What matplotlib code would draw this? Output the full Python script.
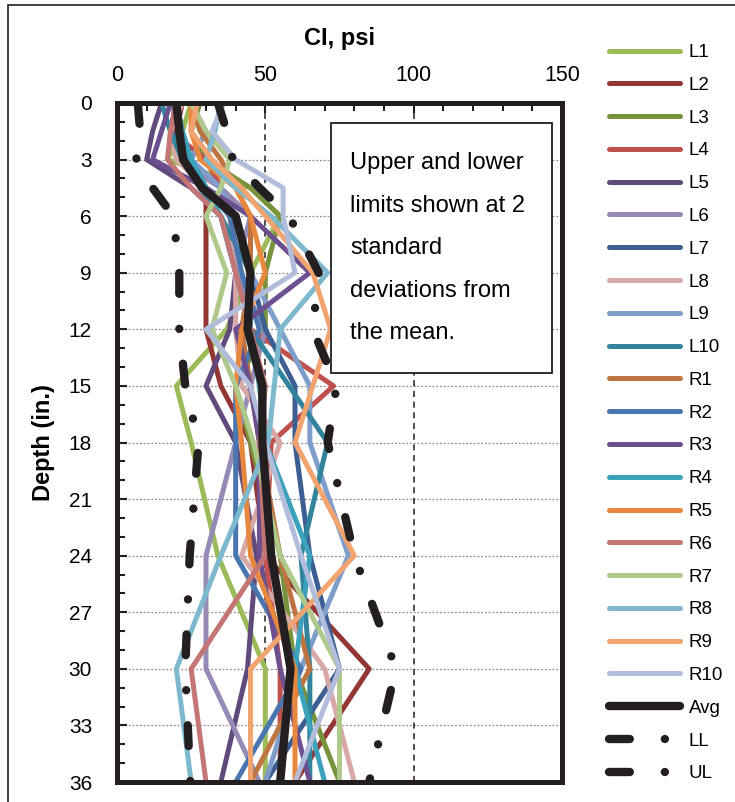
import matplotlib
matplotlib.use('Agg')
import matplotlib.pyplot as plt
from matplotlib.patches import Rectangle
from matplotlib.ticker import MultipleLocator

plt.rcParams['font.family'] = ['Liberation Sans', 'DejaVu Sans']

## Data
depth = [0, 1.5, 3, 4.5, 6, 9, 12, 15, 18, 24, 30, 36]

L1 = [25, 22, 17, 45, 55, 45, 37, 20, 25, 34, 50, 50]
L2 = [22, 20, 25, 30, 30, 30, 30, 35, 45, 50, 85, 60]
L3 = [28, 25, 30, 45, 55, 50, 50, 40, 45, 55, 60, 75]
L4 = [20, 18, 30, 35, 40, 45, 45, 73, 52, 50, 55, 55]
L5 = [15, 12, 10, 25, 35, 40, 38, 30, 40, 47, 44, 35]
L6 = [18, 22, 20, 35, 45, 40, 50, 45, 40, 30, 30, 48]
L7 = [20, 18, 25, 30, 40, 45, 50, 60, 60, 65, 75, 50]
L8 = [22, 18, 20, 30, 38, 40, 40, 42, 55, 42, 70, 80]
L9 = [25, 30, 25, 35, 40, 45, 55, 65, 65, 78, 62, 50]
L10 = [15, 18, 22, 28, 35, 45, 45, 58, 71, 62, 65, 65]
R1 = [25, 28, 35, 40, 45, 45, 42, 45, 48, 55, 65, 45]
R2 = [20, 22, 25, 30, 38, 42, 48, 40, 40, 40, 62, 40]
R3 = [18, 15, 12, 30, 45, 65, 40, 45, 48, 48, 55, 65]
R4 = [20, 22, 25, 30, 35, 40, 45, 48, 50, 65, 60, 70]
R5 = [25, 25, 28, 40, 45, 50, 42, 40, 42, 45, 60, 60]
R6 = [20, 18, 17, 25, 35, 40, 45, 50, 48, 50, 25, 30]
R7 = [25, 30, 38, 35, 30, 37, 32, 40, 46, 55, 75, 75]
R8 = [35, 33, 30, 40, 52, 71, 55, 53, 51, 35, 20, 25]
R9 = [27, 25, 32, 42, 50, 66, 72, 66, 60, 80, 45, 45]
R10 = [36, 32, 40, 56, 56, 60, 30, 45, 50, 62, 75, 60]

avg = [20, 21, 22.3, 28.7, 40, 45, 44, 49, 49, 52, 58.5, 55]
lower = [7, 7.8, 6.5, 12, 19, 21, 21, 23, 27.5, 24.5, 23, 24.7]
upper = [34, 37, 39, 48, 58, 68, 66, 74, 71, 80, 94, 85]

names = ['L1', 'L2', 'L3', 'L4', 'L5', 'L6', 'L7', 'L8', 'L9', 'L10',
         'R1', 'R2', 'R3', 'R4', 'R5', 'R6', 'R7', 'R8', 'R9', 'R10']
values = [L1, L2, L3, L4, L5, L6, L7, L8, L9, L10,
          R1, R2, R3, R4, R5, R6, R7, R8, R9, R10]
colors = ['#9BBB59', '#943634', '#77933C', '#C0504D', '#604A7B',
          '#958BB5', '#3C5E92', '#D8A8A7', '#7E9DCB', '#31849B',
          '#BE7441', '#4A76AF', '#6C4F8E', '#3CA2BB', '#E8883E',
          '#C47674', '#AEC98A', '#7DB8CD', '#F2A470', '#B1BDDA']

note = "Upper and lower\nlimits shown at 2\nstandard\ndeviations from\nthe mean."
dark = '#231F20'

## Figure
fig = plt.figure(figsize=(7.35, 8.02), dpi=100)
ax = fig.add_axes([117/735, 1 - 782/802, (562 - 117)/735, (782 - 103)/802])

handles = []
for name, vals, col in zip(names, values, colors):
    ln, = ax.plot(vals, depth, color=col, lw=3.6, label=name,
                  solid_capstyle='round', solid_joinstyle='round', zorder=2)
    handles.append(ln)

ln, = ax.plot(avg, depth, color=dark, lw=6, label='Avg',
              solid_capstyle='round', solid_joinstyle='round', zorder=3)
handles.append(ln)

# dash - dot pattern for the +/- 2 sd limits
dash_dot = (0, (2.5, 4.2, 0.01, 4.2))
for vals, name in [(lower, 'LL'), (upper, 'UL')]:
    ln, = ax.plot(vals, depth, color=dark, lw=6, ls=dash_dot, label=name,
                  dash_capstyle='round', zorder=3)
    handles.append(ln)

# axes setup
ax.set_xlim(0, 150)
ax.set_ylim(36, 0)
ax.xaxis.tick_top()
ax.xaxis.set_label_position('top')
ax.set_xticks([0, 50, 100, 150])
ax.xaxis.set_minor_locator(MultipleLocator(10))
ax.set_yticks(range(0, 37, 3))
ax.yaxis.set_minor_locator(MultipleLocator(1))
ax.tick_params(axis='x', which='both', direction='in', top=True, bottom=False,
               labelsize=15.5, pad=12, width=1.5, color=dark)
ax.tick_params(axis='y', which='both', direction='in', left=True, right=False,
               labelsize=15, pad=18, width=1.5, color=dark)
ax.tick_params(which='major', length=7)
ax.tick_params(which='minor', length=6)
for sp in ax.spines.values():
    sp.set_linewidth(3.6)
    sp.set_color(dark)
    sp.set_zorder(6)

ax.set_xlabel('CI, psi', fontsize=17, fontweight='bold', labelpad=15)
ax.set_ylabel('Depth (in.)', fontsize=17, fontweight='bold', labelpad=10)

# gridlines
ax.yaxis.grid(True, which='major', color='#8C8C8C', ls=(0, (1.5, 1.5)), lw=0.9)
ax.set_axisbelow(True)
for xv in [50, 100]:
    ax.axvline(xv, color=dark, ls=(0, (4, 3)), lw=1.1, zorder=1)

# note box
ax.add_patch(Rectangle((72, 1.06), 74.6, 13.24, facecolor='white',
                       edgecolor=dark, lw=1.3, zorder=5))
ax.text(78.5, 7.7, note, fontsize=17, linespacing=2.2, va='center',
        ha='left', color='black', zorder=6)

# legend
fig.legend(handles, [h.get_label() for h in handles], loc='upper left',
           bbox_to_anchor=(609/735, 1 - 44/802), frameon=False, fontsize=13.5,
           handlelength=3.8, handletextpad=0.45, labelspacing=0.835,
           borderaxespad=0, borderpad=0)

# outer frame
fig.add_artist(Rectangle((8/735, -0.05), 1.0, 1 - 5/802 + 0.05,
                         transform=fig.transFigure, fill=False, lw=1.2,
                         ec=dark))

fig.savefig('out.png', dpi=100)
